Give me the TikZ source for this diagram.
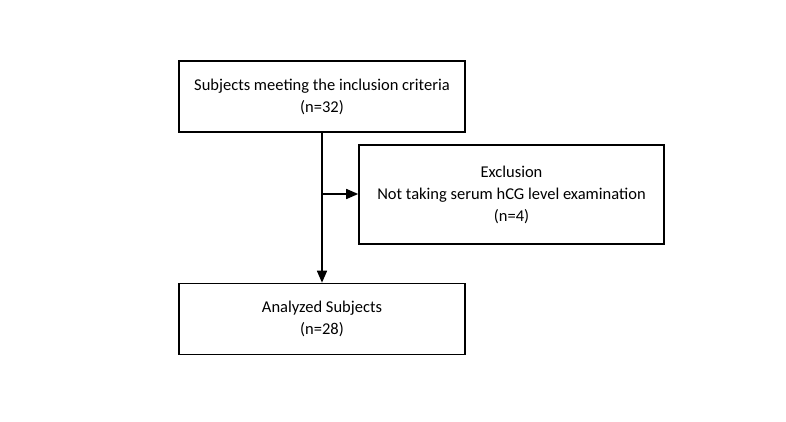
\documentclass[tikz,border=0pt]{standalone}
\usepackage{fontspec}
\setmainfont{Carlito}
\usetikzlibrary{arrows.meta}
\begin{document}
\begin{tikzpicture}[x=1pt,y=-1pt,
  box/.style={draw,line width=1.6pt,minimum width=286pt,align=center,font=\fontsize{16.5}{22}\selectfont,inner sep=0pt},
  conn/.style={line width=1.6pt,-{Triangle[length=12pt,width=10pt]}}]
\useasboundingbox (0,0) rectangle (786,422);
\node[box,minimum height=71pt] (top) at (322,96.5) {Subjects meeting the inclusion criteria\\(n=32)};
\node[box,minimum width=305pt,minimum height=99pt] (excl) at (511.5,194.5) {Exclusion\\Not taking serum hCG level examination\\(n=4)};
\node[box,minimum height=71pt] (ana) at (322,319) {Analyzed Subjects\\(n=28)};
\draw[conn] (top.south) -- (ana.north);
\coordinate (br) at (322,194);
\draw[conn] (br) -- (br -| excl.west);
\end{tikzpicture}
\end{document}
